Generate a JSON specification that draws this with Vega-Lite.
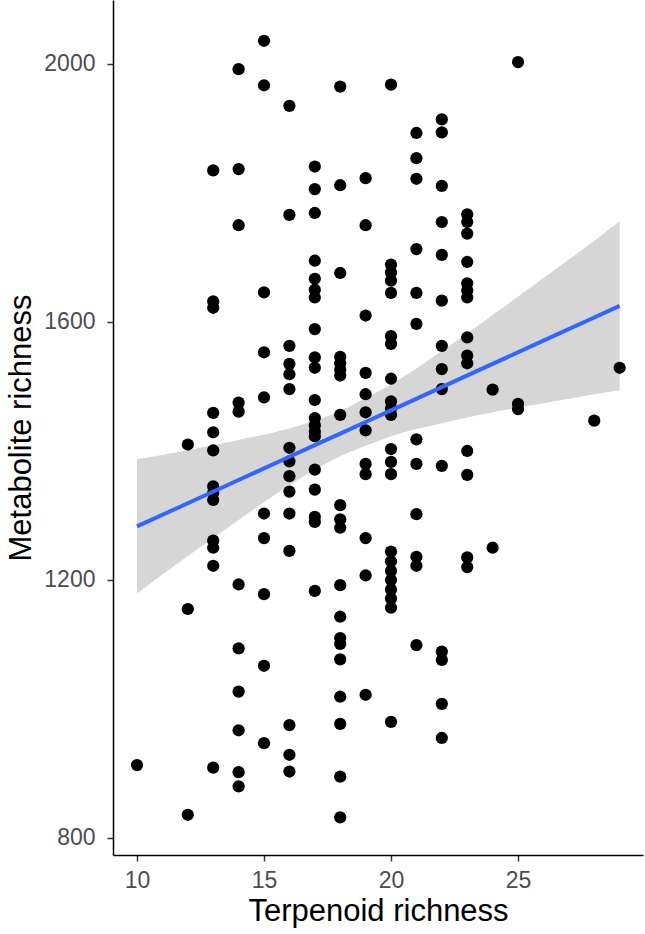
{
  "$schema": "https://vega.github.io/schema/vega-lite/v6.json",
  "width": 530,
  "height": 855,
  "autosize": {"type": "none"},
  "padding": {"left": 113, "top": 0, "right": 2, "bottom": 79},
  "background": "white",
  "config": {
    "view": {"stroke": null},
    "font": "Liberation Sans",
    "axis": {
      "grid": false,
      "domainColor": "#000000",
      "domainWidth": 1.5,
      "tickColor": "#333333",
      "tickWidth": 1.5,
      "tickSize": 6,
      "labelColor": "#4d4d4d",
      "labelFont": "Liberation Sans",
      "labelFontSize": 23,
      "titleFont": "Liberation Sans",
      "titleFontSize": 31,
      "titleFontWeight": "normal",
      "titleColor": "#000000"
    }
  },
  "datasets": {
    "pts": [
      {"x":10,"y":913},
      {"x":12,"y":1410},{"x":12,"y":1155},{"x":12,"y":836},
      {"x":13,"y":1835},{"x":13,"y":1632},{"x":13,"y":1622},{"x":13,"y":1459},{"x":13,"y":1429},{"x":13,"y":1401},{"x":13,"y":1345},{"x":13,"y":1335},{"x":13,"y":1324},{"x":13,"y":1261},{"x":13,"y":1250},{"x":13,"y":1222},{"x":13,"y":909},
      {"x":14,"y":1992},{"x":14,"y":1837},{"x":14,"y":1750},{"x":14,"y":1475},{"x":14,"y":1461},{"x":14,"y":1193},{"x":14,"y":1094},{"x":14,"y":1027},{"x":14,"y":967},{"x":14,"y":902},{"x":14,"y":880},
      {"x":15,"y":2036},{"x":15,"y":1967},{"x":15,"y":1646},{"x":15,"y":1553},{"x":15,"y":1483},{"x":15,"y":1303},{"x":15,"y":1265},{"x":15,"y":1178},{"x":15,"y":1067},{"x":15,"y":947},
      {"x":16,"y":1935},{"x":16,"y":1766},{"x":16,"y":1563},{"x":16,"y":1535},{"x":16,"y":1519},{"x":16,"y":1496},{"x":16,"y":1405},{"x":16,"y":1384},{"x":16,"y":1361},{"x":16,"y":1337},{"x":16,"y":1303},{"x":16,"y":1245},{"x":16,"y":975},{"x":16,"y":929},{"x":16,"y":903},
      {"x":17,"y":1841},{"x":17,"y":1806},{"x":17,"y":1769},{"x":17,"y":1695},{"x":17,"y":1667},{"x":17,"y":1650},{"x":17,"y":1638},{"x":17,"y":1589},{"x":17,"y":1545},{"x":17,"y":1529},{"x":17,"y":1479},{"x":17,"y":1451},{"x":17,"y":1440},{"x":17,"y":1430},{"x":17,"y":1423},{"x":17,"y":1371},{"x":17,"y":1340},{"x":17,"y":1298},{"x":17,"y":1290},{"x":17,"y":1183},
      {"x":18,"y":1965},{"x":18,"y":1812},{"x":18,"y":1676},{"x":18,"y":1546},{"x":18,"y":1536},{"x":18,"y":1526},{"x":18,"y":1517},{"x":18,"y":1456},{"x":18,"y":1316},{"x":18,"y":1294},{"x":18,"y":1281},{"x":18,"y":1192},{"x":18,"y":1143},{"x":18,"y":1110},{"x":18,"y":1101},{"x":18,"y":1077},{"x":18,"y":1019},{"x":18,"y":977},{"x":18,"y":895},{"x":18,"y":832},
      {"x":19,"y":1823},{"x":19,"y":1750},{"x":19,"y":1610},{"x":19,"y":1521},{"x":19,"y":1488},{"x":19,"y":1460},{"x":19,"y":1432},{"x":19,"y":1380},{"x":19,"y":1364},{"x":19,"y":1265},{"x":19,"y":1207},{"x":19,"y":1022},
      {"x":20,"y":1968},{"x":20,"y":1689},{"x":20,"y":1677},{"x":20,"y":1664},{"x":20,"y":1645},{"x":20,"y":1578},{"x":20,"y":1566},{"x":20,"y":1512},{"x":20,"y":1477},{"x":20,"y":1466},{"x":20,"y":1456},{"x":20,"y":1403},{"x":20,"y":1383},{"x":20,"y":1364},{"x":20,"y":1244},{"x":20,"y":1229},{"x":20,"y":1214},{"x":20,"y":1200},{"x":20,"y":1185},{"x":20,"y":1171},{"x":20,"y":1157},{"x":20,"y":980},
      {"x":21,"y":1893},{"x":21,"y":1854},{"x":21,"y":1822},{"x":21,"y":1713},{"x":21,"y":1645},{"x":21,"y":1597},{"x":21,"y":1418},{"x":21,"y":1380},{"x":21,"y":1302},{"x":21,"y":1236},{"x":21,"y":1222},{"x":21,"y":1099},
      {"x":22,"y":1914},{"x":22,"y":1894},{"x":22,"y":1811},{"x":22,"y":1755},{"x":22,"y":1704},{"x":22,"y":1633},{"x":22,"y":1563},{"x":22,"y":1527},{"x":22,"y":1496},{"x":22,"y":1377},{"x":22,"y":1089},{"x":22,"y":1076},{"x":22,"y":1008},{"x":22,"y":955},
      {"x":23,"y":1767},{"x":23,"y":1755},{"x":23,"y":1737},{"x":23,"y":1693},{"x":23,"y":1660},{"x":23,"y":1649},{"x":23,"y":1638},{"x":23,"y":1576},{"x":23,"y":1548},{"x":23,"y":1536},{"x":23,"y":1400},{"x":23,"y":1363},{"x":23,"y":1235},{"x":23,"y":1220},
      {"x":24,"y":1495},{"x":24,"y":1250},
      {"x":25,"y":2003},{"x":25,"y":1473},{"x":25,"y":1465},
      {"x":28,"y":1447},
      {"x":29,"y":1529}
    ],
    "fit": [
      {"x":10,"fit":1283,"lo":1179,"hi":1387},
      {"x":12,"fit":1319,"lo":1237,"hi":1401},
      {"x":14,"fit":1355,"lo":1293,"hi":1417},
      {"x":16,"fit":1391,"lo":1347,"hi":1435},
      {"x":17,"fit":1409,"lo":1371,"hi":1447},
      {"x":18,"fit":1427,"lo":1392,"hi":1462},
      {"x":19,"fit":1445,"lo":1408,"hi":1482},
      {"x":20,"fit":1463,"lo":1423,"hi":1503},
      {"x":22,"fit":1499,"lo":1443,"hi":1555},
      {"x":24,"fit":1535,"lo":1460,"hi":1611},
      {"x":26,"fit":1571,"lo":1474,"hi":1668},
      {"x":28,"fit":1607,"lo":1488,"hi":1726},
      {"x":29,"fit":1625,"lo":1494,"hi":1756}
    ]
  },
  "layer": [
    {
      "data": {"name": "fit"},
      "mark": {"type": "area", "color": "#999999", "opacity": 0.4, "interpolate": "monotone"},
      "encoding": {
        "x": {"field": "x", "type": "quantitative", "scale": {"domain": [9.055, 29.92], "nice": false, "zero": false},
              "axis": {"values": [10, 15, 20, 25], "title": "Terpenoid richness", "labelPadding": 8, "titlePadding": 4}},
        "y": {"field": "lo", "type": "quantitative", "scale": {"domain": [773.6, 2099.2], "nice": false, "zero": false},
              "axis": {"values": [800, 1200, 1600, 2000], "format": "d", "title": "Metabolite richness", "labelPadding": 12, "titlePadding": 6}},
        "y2": {"field": "hi"}
      }
    },
    {
      "data": {"name": "pts"},
      "mark": {"type": "circle", "color": "#000000", "opacity": 1, "size": 150},
      "encoding": {
        "x": {"field": "x", "type": "quantitative"},
        "y": {"field": "y", "type": "quantitative"}
      }
    },
    {
      "data": {"name": "fit"},
      "mark": {"type": "line", "color": "#3366FF", "strokeWidth": 4},
      "encoding": {
        "x": {"field": "x", "type": "quantitative"},
        "y": {"field": "fit", "type": "quantitative"}
      }
    }
  ]
}
